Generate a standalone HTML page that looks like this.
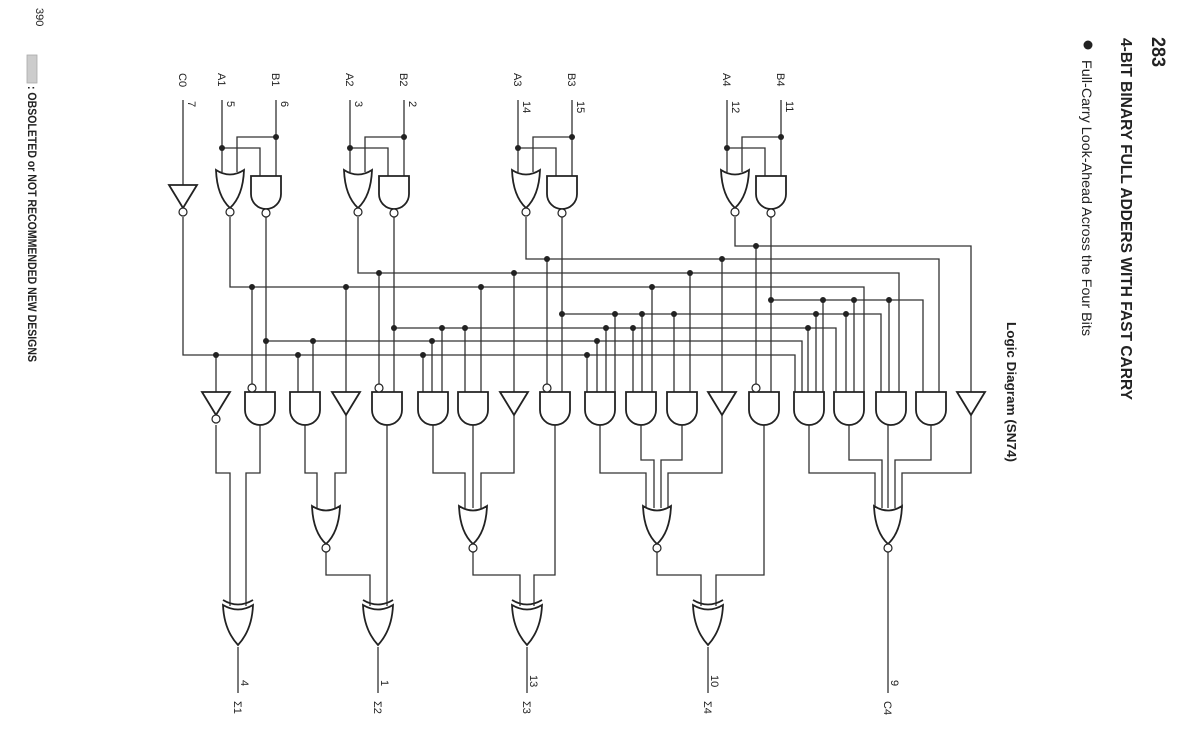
<!DOCTYPE html>
<html><head><meta charset="utf-8"><style>
html,body{margin:0;padding:0;background:#fff;}
svg{display:block;}
text{font-family:"Liberation Sans",sans-serif;fill:#222;}
</style></head><body>
<svg width="1200" height="741" viewBox="0 0 1200 741" xmlns="http://www.w3.org/2000/svg">
<defs>
<g id="nand"><path d="M-15,0H15V18A15,15 0 0 1 -15,18Z" fill="#fff" stroke="#222" stroke-width="1.8"/><circle cx="0" cy="37" r="4" fill="#fff" stroke="#222" stroke-width="1.2"/></g>
<g id="and"><path d="M-15,0H15V18A15,15 0 0 1 -15,18Z" fill="#fff" stroke="#222" stroke-width="1.8"/></g>
<g id="nor"><path d="M-14,0 Q0,9 14,0 Q13,26 0,38 Q-13,26 -14,0Z" fill="#fff" stroke="#222" stroke-width="1.8"/><circle cx="0" cy="42" r="4" fill="#fff" stroke="#222" stroke-width="1.2"/></g>
<g id="inv"><path d="M-14,0H14L0,23Z" fill="#fff" stroke="#222" stroke-width="1.8"/><circle cx="0" cy="27" r="4" fill="#fff" stroke="#222" stroke-width="1.2"/></g>
<g id="buf"><path d="M-14,0H14L0,23Z" fill="#fff" stroke="#222" stroke-width="1.8"/></g>
<g id="xor"><path d="M-15,0 Q0,9 15,0" fill="none" stroke="#222" stroke-width="1.8"/><path d="M-15,5 Q0,14 15,5 Q14,30 0,45 Q-14,30 -15,5Z" fill="#fff" stroke="#222" stroke-width="1.8"/></g>
</defs>

<!-- wires -->
<g fill="none" stroke="#333" stroke-width="1.3">
<path d="M183,100V185 M183,217V355H795V392"/>
<!-- bit inputs -->
<path d="M222,100V172 M276,100V176 M222,148H260V176 M276,137H237V172"/>
<path d="M350,100V172 M404,100V176 M350,148H388V176 M404,137H365V172"/>
<path d="M518,100V172 M572,100V176 M518,148H556V176 M572,137H533V172"/>
<path d="M727,100V172 M781,100V176 M727,148H765V176 M781,137H742V172"/>
<!-- NOR outputs -->
<path d="M230,217V287H864V392 M358,217V273H899V392 M526,217V259H939V392 M735,217V246H971V392"/>
<!-- NAND outputs -->
<path d="M266,217V392 M266,341H802V392 M394,217V392 M394,328H836V392 M562,217V392 M562,314H881V392 M771,217V392 M771,300H923V392"/>
<!-- taps -->
<path d="M216,355V392 M252,287V384 M298,355V392 M313,341V392 M346,287V392 M379,273V384 M423,355V392 M432,341V392 M442,328V392 M465,328V392 M481,287V392 M514,273V392 M547,259V384 M587,355V392 M597,341V392 M606,328V392 M615,314V392 M633,328V392 M642,314V392 M652,287V392 M674,314V392 M690,273V392 M722,259V392 M756,246V384 M808,328V392 M816,314V392 M823,300V392 M846,314V392 M854,300V392 M889,300V392"/>
<!-- lower -->
<path d="M216,425V473H230V606 M260,425V473H246V606"/>
<path d="M305,425V473H317V508 M346,415V473H335V508 M326,552V575H370V606 M387,425V606"/>
<path d="M433,425V473H465V508 M473,425V508 M514,415V473H481V508 M473,552V575H520V606 M555,425V575H534V606"/>
<path d="M600,425V473H646V508 M641,425V460H654V508 M682,425V460H661V508 M722,415V473H668V508 M657,552V575H701V606 M764,425V575H716V606"/>
<path d="M809,425V473H875V508 M849,425V460H882V508 M888,425V508 M931,425V460H895V508 M971,415V473H902V508 M888,552V693"/>
<path d="M238,647V693 M378,647V693 M527,647V693 M708,647V693"/>
</g>

<!-- dots -->
<g fill="#222">
<circle cx="222" cy="148" r="3"/><circle cx="276" cy="137" r="3"/>
<circle cx="350" cy="148" r="3"/><circle cx="404" cy="137" r="3"/>
<circle cx="518" cy="148" r="3"/><circle cx="572" cy="137" r="3"/>
<circle cx="727" cy="148" r="3"/><circle cx="781" cy="137" r="3"/>
<circle cx="266" cy="341" r="3"/><circle cx="394" cy="328" r="3"/><circle cx="562" cy="314" r="3"/><circle cx="771" cy="300" r="3"/>
<circle cx="216" cy="355" r="3"/><circle cx="252" cy="287" r="3"/><circle cx="298" cy="355" r="3"/><circle cx="313" cy="341" r="3"/><circle cx="346" cy="287" r="3"/><circle cx="379" cy="273" r="3"/><circle cx="423" cy="355" r="3"/><circle cx="432" cy="341" r="3"/><circle cx="442" cy="328" r="3"/><circle cx="465" cy="328" r="3"/><circle cx="481" cy="287" r="3"/><circle cx="514" cy="273" r="3"/><circle cx="547" cy="259" r="3"/><circle cx="587" cy="355" r="3"/><circle cx="597" cy="341" r="3"/><circle cx="606" cy="328" r="3"/><circle cx="615" cy="314" r="3"/><circle cx="633" cy="328" r="3"/><circle cx="642" cy="314" r="3"/><circle cx="652" cy="287" r="3"/><circle cx="674" cy="314" r="3"/><circle cx="690" cy="273" r="3"/><circle cx="722" cy="259" r="3"/><circle cx="756" cy="246" r="3"/><circle cx="808" cy="328" r="3"/><circle cx="816" cy="314" r="3"/><circle cx="823" cy="300" r="3"/><circle cx="846" cy="314" r="3"/><circle cx="854" cy="300" r="3"/><circle cx="889" cy="300" r="3"/>
</g>

<!-- top gates -->
<use href="#inv" x="183" y="185"/>
<use href="#nor" x="230" y="170"/><use href="#nand" x="266" y="176"/>
<use href="#nor" x="358" y="170"/><use href="#nand" x="394" y="176"/>
<use href="#nor" x="526" y="170"/><use href="#nand" x="562" y="176"/>
<use href="#nor" x="735" y="170"/><use href="#nand" x="771" y="176"/>

<!-- row 2 -->
<use href="#inv" x="216" y="392"/>
<use href="#and" x="260" y="392"/><use href="#and" x="305" y="392"/><use href="#buf" x="346" y="392"/>
<use href="#and" x="387" y="392"/><use href="#and" x="433" y="392"/><use href="#and" x="473" y="392"/><use href="#buf" x="514" y="392"/>
<use href="#and" x="555" y="392"/><use href="#and" x="600" y="392"/><use href="#and" x="641" y="392"/><use href="#and" x="682" y="392"/><use href="#buf" x="722" y="392"/>
<use href="#and" x="764" y="392"/><use href="#and" x="809" y="392"/><use href="#and" x="849" y="392"/><use href="#and" x="891" y="392"/><use href="#and" x="931" y="392"/><use href="#buf" x="971" y="392"/>
<g fill="#fff" stroke="#222" stroke-width="1.2">
<circle cx="252" cy="388" r="4"/><circle cx="379" cy="388" r="4"/><circle cx="547" cy="388" r="4"/><circle cx="756" cy="388" r="4"/>
</g>

<!-- row 3 -->
<use href="#nor" x="326" y="506"/><use href="#nor" x="473" y="506"/><use href="#nor" x="657" y="506"/><use href="#nor" x="888" y="506"/>
<use href="#xor" x="238" y="600"/><use href="#xor" x="378" y="600"/><use href="#xor" x="527" y="600"/><use href="#xor" x="708" y="600"/>

<!-- input labels -->
<g font-size="11">
<text transform="translate(179,73) rotate(90)">C0</text><text transform="translate(188,101) rotate(90)">7</text>
<text transform="translate(218,73) rotate(90)">A1</text><text transform="translate(227,101) rotate(90)">5</text>
<text transform="translate(272,73) rotate(90)">B1</text><text transform="translate(281,101) rotate(90)">6</text>
<text transform="translate(346,73) rotate(90)">A2</text><text transform="translate(355,101) rotate(90)">3</text>
<text transform="translate(400,73) rotate(90)">B2</text><text transform="translate(409,101) rotate(90)">2</text>
<text transform="translate(514,73) rotate(90)">A3</text><text transform="translate(523,101) rotate(90)">14</text>
<text transform="translate(568,73) rotate(90)">B3</text><text transform="translate(577,101) rotate(90)">15</text>
<text transform="translate(723,73) rotate(90)">A4</text><text transform="translate(732,101) rotate(90)">12</text>
<text transform="translate(777,73) rotate(90)">B4</text><text transform="translate(786,101) rotate(90)">11</text>
<!-- outputs -->
<text transform="translate(241,680) rotate(90)">4</text><text transform="translate(234,701) rotate(90)">Σ1</text>
<text transform="translate(381,680) rotate(90)">1</text><text transform="translate(374,701) rotate(90)">Σ2</text>
<text transform="translate(530,675) rotate(90)">13</text><text transform="translate(523,701) rotate(90)">Σ3</text>
<text transform="translate(711,675) rotate(90)">10</text><text transform="translate(704,701) rotate(90)">Σ4</text>
<text transform="translate(891,680) rotate(90)">9</text><text transform="translate(884,701) rotate(90)">C4</text>
</g>

<!-- page text -->
<text transform="translate(1152,37) rotate(90)" font-size="19" font-weight="bold" textLength="30" lengthAdjust="spacingAndGlyphs">283</text>
<text transform="translate(1121,38) rotate(90)" font-size="16" font-weight="bold" textLength="362" lengthAdjust="spacingAndGlyphs">4-BIT BINARY FULL ADDERS WITH FAST CARRY</text>
<circle cx="1088" cy="45" r="4.5" fill="#222"/>
<text transform="translate(1082,60) rotate(90)" font-size="14" textLength="276" lengthAdjust="spacingAndGlyphs" fill="#444">Full-Carry Look-Ahead Across the Four Bits</text>
<text transform="translate(1007,322) rotate(90)" font-size="13" font-weight="bold" textLength="140" lengthAdjust="spacingAndGlyphs">Logic Diagram (SN74)</text>
<text transform="translate(36,8) rotate(90)" font-size="11" fill="#777">390</text>
<rect x="27" y="55" width="10" height="28" fill="#ccc" stroke="#aaa" stroke-width="0.8"/>
<text transform="translate(28,86) rotate(90)" font-size="12" font-weight="bold" textLength="276" lengthAdjust="spacingAndGlyphs">: OBSOLETED or NOT RECOMMENDED NEW DESIGNS</text>
</svg>
</body></html>
